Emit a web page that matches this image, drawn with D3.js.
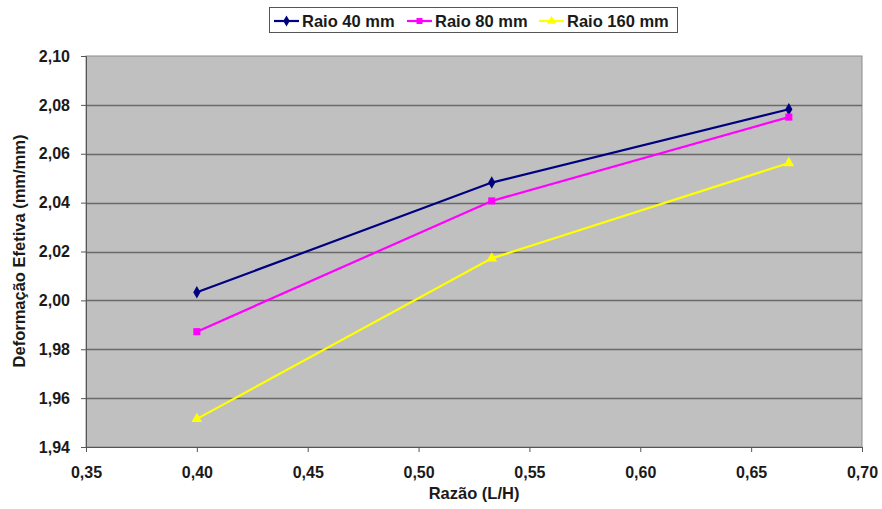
<!DOCTYPE html>
<html>
<head>
<meta charset="utf-8">
<script src="https://cdn.jsdelivr.net/npm/d3@7"></script>
<style>
  html, body { margin: 0; padding: 0; background: #fff; }
  svg { display: block; font-family: Arial, "Liberation Sans", sans-serif; }
</style>
</head>
<body>
<svg id="chart" width="882" height="509"></svg>
<script>
// Razão L/H on the x axis
const razao = [0.400, 0.533, 0.667];

// Deformação efetiva (mm/mm) per punch radius
const raio40 = [2.0033, 2.0482, 2.0782];
const raio80 = [1.9872, 2.0407, 2.0750];
const raio160 = [1.9515, 2.0172, 2.0562];

const seriesNames = ["Raio 40 mm", "Raio 80 mm", "Raio 160 mm"];
const seriesColors = ["#000080", "#ff00ff", "#ffff00"];
const seriesSymbols = [d3.symbolDiamond, d3.symbolSquare, d3.symbolTriangle];

const xTicks = [0.35, 0.40, 0.45, 0.50, 0.55, 0.60, 0.65, 0.70];
const yTicks = [1.94, 1.96, 1.98, 2.00, 2.02, 2.04, 2.06, 2.08, 2.10];

const svg = d3.select("#chart");
const plot = { left: 86, right: 862, top: 56, bottom: 447 };
const textColor = "#1a1a1a";

const x = d3.scaleLinear().domain([0.35, 0.70]).range([plot.left, plot.right]);
const y = d3.scaleLinear().domain([1.94, 2.10]).range([plot.bottom, plot.top]);
const fmt = v => d3.format(".2f")(v).replace(".", ",");

// plot background
svg.append("rect")
  .attr("x", plot.left).attr("y", plot.top)
  .attr("width", plot.right - plot.left).attr("height", plot.bottom - plot.top)
  .attr("fill", "#c0c0c0").attr("stroke", "#8c8c8c").attr("stroke-width", 1);

// horizontal gridlines
svg.append("g").selectAll("line")
  .data(yTicks.slice(1, -1))
  .join("line")
  .attr("x1", plot.left).attr("x2", plot.right)
  .attr("y1", d => Math.round(y(d)) + 0.5).attr("y2", d => Math.round(y(d)) + 0.5)
  .attr("stroke", "#6a6a6a").attr("stroke-width", 1.6);

// axes
const xAxis = svg.append("g")
  .attr("transform", `translate(0,${plot.bottom})`)
  .call(d3.axisBottom(x).tickValues(xTicks).tickFormat(fmt).tickSize(5).tickPadding(15));
const yAxis = svg.append("g")
  .attr("transform", `translate(${plot.left},0)`)
  .call(d3.axisLeft(y).tickValues(yTicks).tickFormat(fmt).tickSize(5).tickPadding(11));

[xAxis, yAxis].forEach(g => {
  g.select(".domain").attr("stroke", "#555").attr("stroke-width", 1);
  g.selectAll(".tick line").attr("stroke", "#555");
  g.selectAll(".tick text")
    .attr("font-family", "Arial, 'Liberation Sans', sans-serif")
    .attr("font-size", 16).attr("font-weight", "bold").attr("fill", textColor);
});

// series lines and markers
const data = [raio40, raio80, raio160];
const line = d3.line().x((d, i) => x(razao[i])).y(d => y(d));

data.forEach((vals, s) => {
  svg.append("path")
    .datum(vals)
    .attr("d", line)
    .attr("fill", "none")
    .attr("stroke", seriesColors[s])
    .attr("stroke-width", 2.2);
  svg.append("g").selectAll("path")
    .data(vals)
    .join("path")
    .attr("transform", (d, i) => `translate(${x(razao[i])},${y(d)})`)
    .attr("d", d3.symbol().type(seriesSymbols[s]).size(s === 0 ? 45 : 50))
    .attr("fill", seriesColors[s]);
});

// axis titles
svg.append("text")
  .attr("x", 474).attr("y", 499)
  .attr("text-anchor", "middle")
  .attr("font-size", 16.5).attr("font-weight", "bold").attr("fill", textColor)
  .text("Razão (L/H)");
svg.append("text")
  .attr("transform", "translate(25,251) rotate(-90)")
  .attr("text-anchor", "middle")
  .attr("font-size", 16.5).attr("font-weight", "bold").attr("fill", textColor)
  .text("Deformação Efetiva (mm/mm)");

// legend
const legend = svg.append("g");
legend.append("rect")
  .attr("x", 269.5).attr("y", 7.5).attr("width", 408).attr("height", 25)
  .attr("fill", "#fff").attr("stroke", "#555").attr("stroke-width", 1);
const legendX = [274, 407, 539];
seriesNames.forEach((name, s) => {
  const g = legend.append("g").attr("transform", `translate(${legendX[s]},21)`);
  g.append("line").attr("x1", 0).attr("x2", 25).attr("y1", 0).attr("y2", 0)
    .attr("stroke", seriesColors[s]).attr("stroke-width", 2.2);
  g.append("path").attr("transform", "translate(12.5,0)")
    .attr("d", d3.symbol().type(seriesSymbols[s]).size(36))
    .attr("fill", seriesColors[s]);
  g.append("text").attr("x", 28).attr("y", 6)
    .attr("font-size", 16.5).attr("font-weight", "bold").attr("fill", textColor)
    .text(name);
});
</script>
</body>
</html>
